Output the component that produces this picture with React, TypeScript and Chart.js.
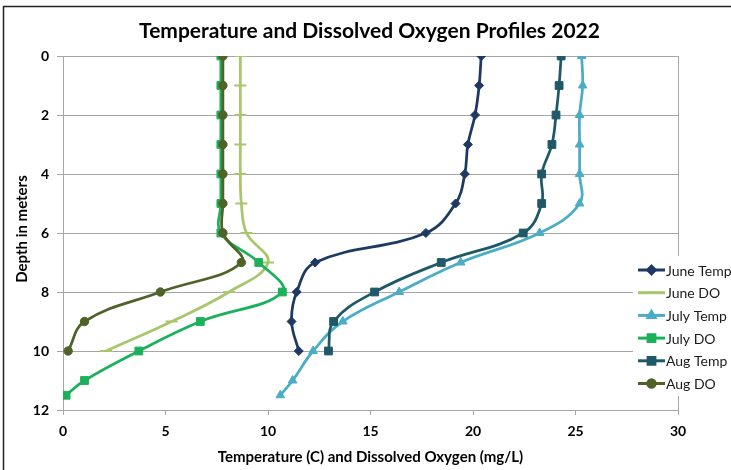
import React, { useEffect, useRef } from 'react';
import { Chart, registerables } from 'chart.js';
import { drawPoint } from 'chart.js/helpers';

Chart.register(...registerables);

// ---- data ----
const juneDepths = [0, 1, 2, 3, 4, 5, 6, 7, 8, 9, 10];
const julyDepths = [0, 1, 2, 3, 4, 5, 6, 7, 8, 9, 10, 11, 11.5];
const augDepths = [0, 1, 2, 3, 4, 5, 6, 7, 8, 9, 10];

const juneTemp = [20.4, 20.3, 20.1, 19.75, 19.6, 19.15, 17.7, 12.3, 11.4, 11.15, 11.5];
const juneDO = [8.65, 8.65, 8.65, 8.65, 8.65, 8.7, 8.95, 10.0, 8.1, 5.3, 2.1];
const julyTemp = [25.3, 25.35, 25.2, 25.2, 25.2, 25.2, 23.25, 19.4, 16.4, 13.65, 12.2, 11.2, 10.6];
const julyDO = [7.7, 7.7, 7.7, 7.7, 7.7, 7.7, 7.7, 9.55, 10.7, 6.7, 3.7, 1.05, 0.15];
const augTemp = [24.3, 24.2, 24.05, 23.85, 23.35, 23.35, 22.45, 18.45, 15.2, 13.2, 12.95];
const augDO = [7.8, 7.8, 7.8, 7.8, 7.8, 7.8, 7.8, 8.7, 4.75, 1.05, 0.25];

const seriesNames = ['June Temp', 'June DO', 'July Temp', 'July DO', 'Aug Temp', 'Aug DO'];
const titleText = 'Temperature and Dissolved Oxygen Profiles 2022';
const xTitleText = 'Temperature (C) and Dissolved Oxygen (mg/L)';
const yTitleText = 'Depth in meters';

const colors = ['#1F3A62', '#A8C66C', '#4BACC6', '#1BB15A', '#1F5968', '#4F6228'];
const styles = ['rectRot', 'line', 'triangle', 'rect', 'rect', 'circle'];
const radii = [4.5, 6, 5, 5.5, 5.5, 4.2];

const FONT = 'Lato, "Open Sans", sans-serif';

function zip(xs: number[], ys: number[]) {
  return xs.map((x, i) => ({ x, y: ys[i] }));
}

const decorPlugin = {
  id: 'decor',
  beforeDraw(chart: any) {
    const ctx = chart.ctx;
    ctx.save();
    ctx.fillStyle = '#ffffff';
    ctx.fillRect(0, 0, chart.width, chart.height);
    ctx.strokeStyle = '#222';
    ctx.lineWidth = 1.5;
    ctx.beginPath();
    ctx.moveTo(3.5, chart.height);
    ctx.lineTo(3.5, 6.5);
    ctx.lineTo(chart.width, 6.5);
    ctx.stroke();
    ctx.restore();
  },
  afterDraw(chart: any) {
    const ctx = chart.ctx;
    const ca = chart.chartArea;
    const cx = (ca.left + ca.right) / 2;
    ctx.save();
    ctx.fillStyle = '#000';
    ctx.textAlign = 'center';
    ctx.textBaseline = 'middle';
    ctx.font = `bold 21px ${FONT}`;
    ctx.fillText(titleText, cx - 1, 31);
    ctx.font = `bold 15px ${FONT}`;
    ctx.fillText(xTitleText, cx, 457);
    ctx.save();
    ctx.translate(22, (ca.top + ca.bottom) / 2 - 4);
    ctx.rotate(-Math.PI / 2);
    ctx.fillText(yTitleText, 0, 0);
    ctx.restore();

    // legend
    ctx.fillStyle = '#ffffff';
    ctx.fillRect(633, 256, chart.width - 633, 140);
    ctx.textAlign = 'left';
    ctx.font = `14px ${FONT}`;
    seriesNames.forEach((name, i) => {
      const y = 270 + i * 22.7;
      ctx.strokeStyle = colors[i];
      ctx.lineWidth = 3;
      ctx.beginPath();
      ctx.moveTo(638, y);
      ctx.lineTo(665, y);
      ctx.stroke();
      ctx.fillStyle = colors[i];
      ctx.strokeStyle = colors[i];
      ctx.lineWidth = 2;
      drawPoint(ctx, { pointStyle: styles[i], radius: radii[i], rotation: 0, borderWidth: 2 } as any, 651.5, y);
      ctx.fillStyle = '#1a1a1a';
      ctx.fillText(name, 666, y + 1);
    });
    ctx.restore();
  },
};

export default function App() {
  const ref = useRef<HTMLCanvasElement | null>(null);
  useEffect(() => {
    if (!ref.current) return;
    const seriesData = [
      zip(juneTemp, juneDepths),
      zip(juneDO, juneDepths),
      zip(julyTemp, julyDepths),
      zip(julyDO, julyDepths),
      zip(augTemp, augDepths),
      zip(augDO, augDepths),
    ];
    const chart = new Chart(ref.current, {
      type: 'scatter',
      data: {
        datasets: seriesData.map((d, i) => ({
          label: seriesNames[i],
          data: d,
          showLine: true,
          borderColor: colors[i],
          backgroundColor: colors[i],
          pointBackgroundColor: colors[i],
          pointBorderColor: colors[i],
          pointStyle: styles[i] as any,
          pointRadius: radii[i],
          pointBorderWidth: i === 1 ? 2 : 1,
          borderWidth: 2.75,
          tension: 0.4,
          order: 5 - i,
        })),
      },
      plugins: [decorPlugin],
      options: {
        responsive: false,
        animation: false,
        layout: { padding: { top: 56, right: 53, bottom: 0, left: 0 } },
        plugins: {
          legend: { display: false },
          title: { display: false },
          tooltip: { enabled: false },
        },
        scales: {
          x: {
            type: 'linear',
            min: 0,
            max: 30,
            ticks: { stepSize: 5, color: '#000', font: { family: FONT, size: 14, weight: 'bold' }, padding: 8 },
            grid: {
              color: (c: any) => (c.tick && c.tick.value === 30 ? '#A6A6A6' : 'rgba(0,0,0,0)'),
              tickColor: '#A6A6A6',
              tickLength: 5,
            },
            border: { color: '#A6A6A6' },
            afterFit: (s: any) => { s.height = 60; },
          },
          y: {
            type: 'linear',
            reverse: true,
            min: 0,
            max: 12,
            ticks: { stepSize: 2, color: '#000', font: { family: FONT, size: 14, weight: 'bold' }, padding: 8 },
            grid: { color: '#A6A6A6', tickLength: 6 },
            border: { color: '#A6A6A6' },
            afterFit: (s: any) => { s.width = 63; },
          },
        },
      },
    });
    return () => chart.destroy();
  }, []);
  return (
    <div style={{ position: 'absolute', left: 0, top: 0, width: 731, height: 470 }}>
      <canvas ref={ref} width={731} height={470} />
    </div>
  );
}
